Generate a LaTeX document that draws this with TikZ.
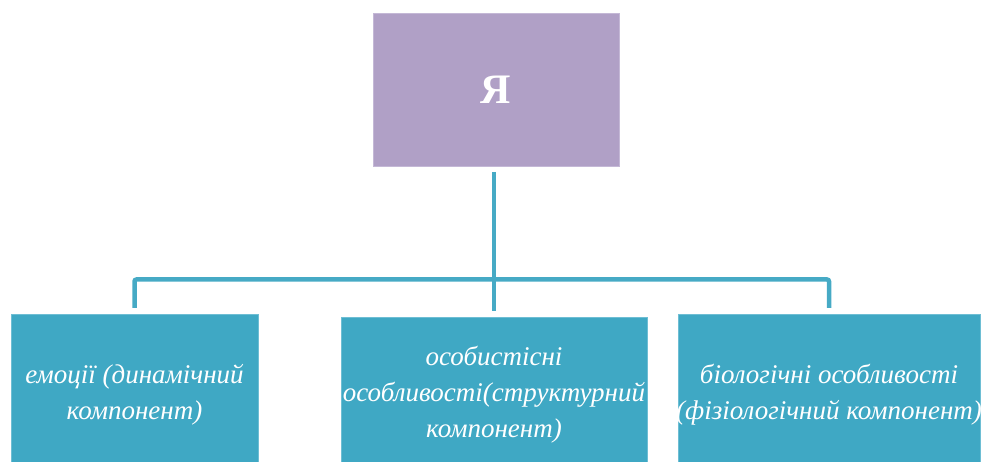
\documentclass[tikz,border=0pt]{standalone}
\usepackage{fontspec}
\setmainfont{Liberation Serif}
\definecolor{purpfill}{RGB}{176,160,198}
\definecolor{purpedge}{RGB}{196,184,214}
\definecolor{tealfill}{RGB}{63,168,196}
\definecolor{tealedge}{RGB}{110,190,212}
\definecolor{tealline}{RGB}{70,170,197}
\begin{document}
\begin{tikzpicture}[x=1pt,y=1pt,
  box/.style={rectangle, inner sep=0pt, outer sep=0pt, text=white, align=center},
  topbox/.style={box, fill=purpfill, draw=purpedge, line width=0.8pt, font=\fontsize{42}{42}\selectfont\bfseries},
  leaf/.style={box, fill=tealfill, draw=tealedge, line width=0.8pt},
  leaftext/.style={box, font=\fontsize{27}{36}\selectfont\itshape},
  conn/.style={draw=tealline, line width=4.5pt, rounded corners=2pt}]
\useasboundingbox (0,0) rectangle (983,461);
\node[topbox, minimum width=246pt, minimum height=153pt] (top) at (496,371.5) {Я};
\node[leaf, minimum width=247pt, minimum height=153pt] (left) at (134.5,70.5) {};
\node[leaf, minimum width=306pt, minimum height=150pt] (mid) at (494,69) {};
\node[leaf, minimum width=302pt, minimum height=153pt] (right) at (829,70.5) {};
\node[leaftext] (lt) at (134.5,66) {емоції (динамічний\\компонент)};
\node[leaftext] (mt) at (494,66) {особистісні\\особливості(структурний\\компонент)};
\node[leaftext] (rt) at (829,66) {біологічні особливості\\(фізіологічний компонент)};
\coordinate (j) at (494,181.5);
\draw[conn, shorten <=6pt] (j |- top.south) -- (j);
\draw[conn, shorten <=6pt, shorten >=6pt] (left.north) |- (j) -| (right.north);
\draw[conn, shorten >=6pt] (j) -- (mid.north);
\end{tikzpicture}
\end{document}
